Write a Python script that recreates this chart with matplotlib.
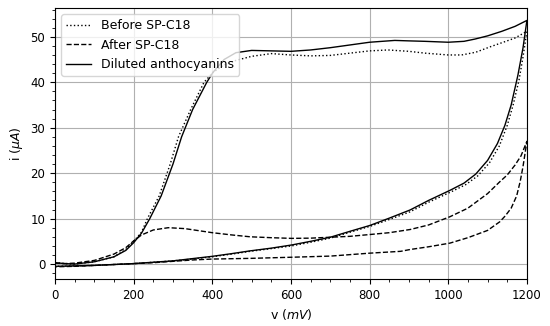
import matplotlib
matplotlib.use("Agg")
import matplotlib.pyplot as plt
from matplotlib.ticker import MultipleLocator

# Before SP-C18 (dotted)
before_fwd_v = [0, 25, 50, 100, 150, 180, 200, 220, 235, 265, 293, 314, 345, 379, 402, 430, 460, 500,
                550, 600, 650, 700, 750, 800, 847, 900, 941, 1000, 1034, 1070, 1110, 1140, 1169, 1200]
before_fwd_i = [0.3, 0.1, 0.0, 0.5, 1.6, 3.2, 5.0, 7.0, 10, 15, 22, 28, 34, 40, 42.2, 43.8, 44.8, 45.7,
                46.3, 46.0, 45.8, 45.9, 46.4, 46.9, 47.1, 46.8, 46.4, 46.0, 46.0, 46.6, 47.9, 48.8, 49.7, 51.2]
before_rev_v = [1200, 1190, 1180, 1165, 1150, 1130, 1105, 1075, 1045, 1010, 950, 903, 850, 801, 750, 700,
                650, 602, 550, 496, 450, 400, 350, 300, 250, 200, 150, 100, 50, 0]
before_rev_i = [51.2, 45.5, 40.5, 35, 30.5, 26, 22.3, 19.4, 17.5, 16.0, 13.6, 11.5, 9.8, 8.3, 7.0, 5.7,
                4.8, 4.0, 3.4, 2.8, 2.2, 1.6, 1.1, 0.7, 0.4, 0.1, -0.1, -0.3, -0.4, -0.5]

# After SP-C18 (dashed)
after_fwd_v = [0, 25, 50, 100, 150, 180, 200, 220, 250, 288, 330, 369, 400, 450, 496, 550, 602, 650,
               700, 750, 801, 850, 903, 950, 1004, 1050, 1100, 1131, 1150, 1170, 1185, 1200]
after_fwd_i = [0.2, 0.1, 0.2, 0.8, 2.2, 3.6, 5.1, 6.4, 7.5, 8.0, 7.8, 7.3, 6.9, 6.4, 6.0, 5.8, 5.65, 5.7,
               5.9, 6.1, 6.5, 6.9, 7.6, 8.6, 10.4, 12.3, 15.5, 18.1, 19.6, 21.8, 23.8, 27]
after_rev_v = [1200, 1195, 1190, 1183, 1174, 1160, 1145, 1131, 1100, 1050, 1004, 950, 903, 879, 801, 700,
               602, 496, 400, 350, 300, 250, 200, 150, 100, 50, 0]
after_rev_i = [27, 24.2, 21.4, 18.2, 15.0, 12.3, 10.6, 9.3, 7.4, 5.8, 4.6, 3.8, 3.2, 2.8, 2.4, 1.75,
               1.5, 1.25, 1.1, 0.9, 0.6, 0.3, 0.1, -0.1, -0.3, -0.5, -0.6]

# Diluted anthocyanins (solid)
dil_fwd_v = [0, 25, 50, 100, 150, 180, 200, 220, 241, 270, 300, 322, 350, 386, 402, 430, 460, 500,
             550, 600, 650, 700, 750, 800, 864, 900, 941, 1000, 1040, 1068, 1100, 1136, 1170, 1200]
dil_fwd_i = [0.3, 0.1, 0.0, 0.5, 1.6, 3.0, 4.7, 6.8, 10, 15, 22, 28, 34, 40, 42.2, 45, 46.5, 47,
             46.9, 46.8, 47.1, 47.6, 48.2, 48.8, 49.2, 49.1, 49.0, 48.8, 49.0, 49.5, 50.2, 51.2, 52.3, 53.6]
dil_rev_v = [1200, 1190, 1177, 1160, 1144, 1125, 1100, 1070, 1040, 1004, 950, 903, 850, 801, 750,
             700, 650, 602, 550, 496, 450, 400, 350, 300, 250, 200, 150, 100, 50, 0]
dil_rev_i = [53.6, 47.5, 41.5, 35, 30.5, 26.5, 22.8, 19.8, 17.8, 16.2, 14.0, 11.9, 10.1, 8.5, 7.2,
             5.9, 5.0, 4.2, 3.5, 2.9, 2.3, 1.7, 1.2, 0.7, 0.4, 0.1, -0.1, -0.3, -0.4, -0.5]

fig = plt.figure(figsize=(5.5, 3.26), dpi=100)
ax = fig.add_axes([0.1, 0.144, 0.858, 0.831])

lw = 1.0
ax.plot(before_fwd_v + before_rev_v, before_fwd_i + before_rev_i, "k:", lw=lw, label="Before SP-C18")
ax.plot(after_fwd_v + after_rev_v, after_fwd_i + after_rev_i, "k--", lw=lw, label="After SP-C18")
ax.plot(dil_fwd_v + dil_rev_v, dil_fwd_i + dil_rev_i, "k-", lw=lw, label="Diluted anthocyanins")

ax.set_xlim(0, 1200)
ax.set_ylim(-3.3, 56.3)
ax.xaxis.set_major_locator(MultipleLocator(200))
ax.xaxis.set_minor_locator(MultipleLocator(50))
ax.yaxis.set_major_locator(MultipleLocator(10))
ax.yaxis.set_minor_locator(MultipleLocator(2))
ax.tick_params(labelsize=8.5)
ax.grid(True, color="#b0b0b0", lw=0.8)
ax.set_xlabel("v ($mV$)", fontsize=9)
ax.set_ylabel("i ($\\mu A$)", fontsize=9)
ax.legend(loc="upper left", fontsize=9)

fig.savefig("out.png", dpi=100)
